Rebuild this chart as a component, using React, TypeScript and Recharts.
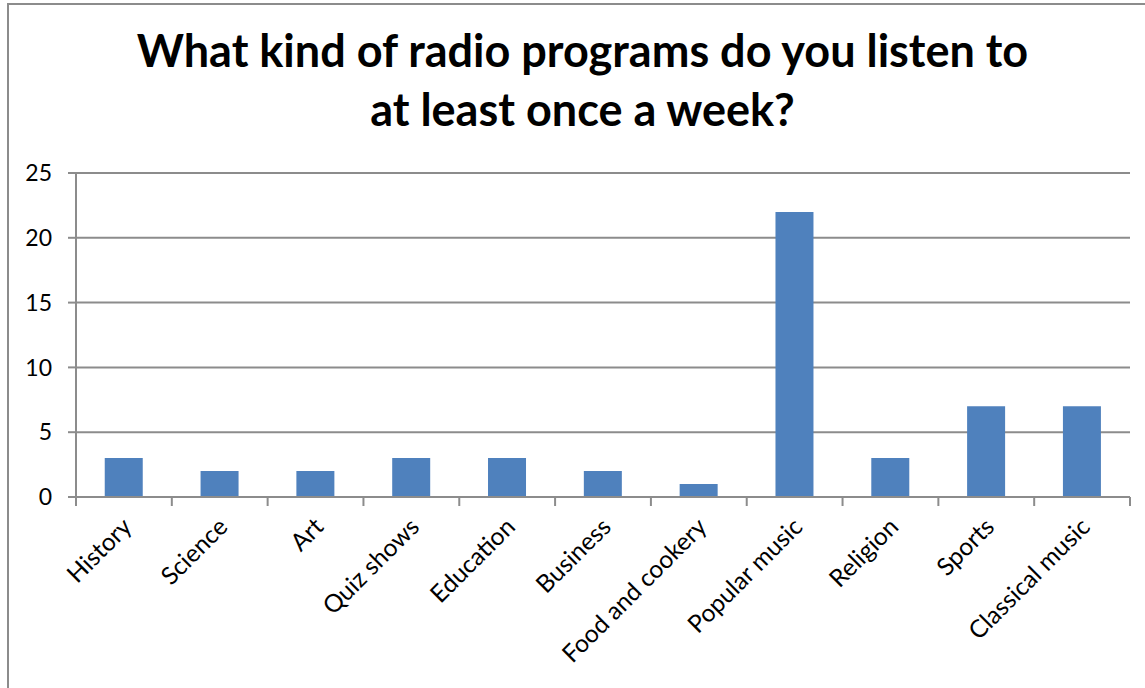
import { BarChart, Bar, XAxis, YAxis, CartesianGrid } from 'recharts';

const categories = [
  'History',
  'Science',
  'Art',
  'Quiz shows',
  'Education',
  'Business',
  'Food and cookery',
  'Popular music',
  'Religion',
  'Sports',
  'Classical music',
];
const listeners = [3, 2, 2, 3, 3, 2, 1, 22, 3, 7, 7];
const yTicks = [0, 5, 10, 15, 20, 25];

const FONT = 'Lato, "Open Sans", sans-serif';
const AXIS_GREY = '#8c8c8c';
const PLOT_LEFT = 76;
const PLOT_RIGHT = 1130;
const BAND = (PLOT_RIGHT - PLOT_LEFT) / categories.length;

const data = categories.map((name, i) => ({ name, value: listeners[i] }));

function CategoryTick(props: any) {
  const { x, y, payload, index } = props;
  const last = index === categories.length - 1;
  const ax = x + 5;
  const ay = y + 19;
  return (
    <g>
      <line x1={x - BAND / 2} y1={y - 8} x2={x - BAND / 2} y2={y + 1} stroke={AXIS_GREY} strokeWidth={2} />
      {last && (
        <line x1={x + BAND / 2} y1={y - 8} x2={x + BAND / 2} y2={y + 1} stroke={AXIS_GREY} strokeWidth={2} />
      )}
      <text
        x={ax}
        y={ay}
        textAnchor="end"
        dominantBaseline="middle"
        transform={`rotate(-45, ${ax}, ${ay})`}
        fontSize={24.5}
        fontFamily={FONT}
        fill="#000"
      >
        {payload.value}
      </text>
    </g>
  );
}

export default function App() {
  return (
    <div style={{ position: 'absolute', left: 0, top: 0, width: 1145, height: 688, overflow: 'hidden', background: '#fff' }}>
      <div
        style={{
          position: 'absolute',
          left: 7,
          top: 3,
          width: 1160,
          height: 700,
          borderLeft: `2px solid ${AXIS_GREY}`,
          borderTop: `2px solid ${AXIS_GREY}`,
        }}
      />
      <div
        style={{
          position: 'absolute',
          left: 0,
          top: 21,
          width: 1165,
          textAlign: 'center',
          fontFamily: FONT,
          fontWeight: 700,
          fontSize: 45,
          lineHeight: '59px',
          color: '#000',
        }}
      >
        What kind of radio programs do you listen to
        <br />
        at least once a week?
      </div>
      <BarChart
        width={1145}
        height={688}
        data={data}
        margin={{ top: 173, right: 1145 - PLOT_RIGHT, bottom: 0, left: 0 }}
        barCategoryGap="30%"
        style={{ position: 'absolute', left: 0, top: 0 }}
      >
        <CartesianGrid vertical={false} stroke={AXIS_GREY} strokeWidth={2} />
        <XAxis
          dataKey="name"
          height={688 - 497}
          interval={0}
          tickLine={false}
          axisLine={{ stroke: AXIS_GREY, strokeWidth: 2 }}
          tick={<CategoryTick />}
        />
        <YAxis
          width={PLOT_LEFT}
          domain={[0, 25]}
          ticks={yTicks}
          interval={0}
          axisLine={{ stroke: AXIS_GREY, strokeWidth: 2 }}
          tickLine={{ stroke: AXIS_GREY, strokeWidth: 2 }}
          tickSize={8}
          tickMargin={16}
          tick={{ fontSize: 23, fontFamily: FONT, fill: '#000' }}
        />
        <Bar dataKey="value" fill="#4F81BD" isAnimationActive={false} />
      </BarChart>
    </div>
  );
}
